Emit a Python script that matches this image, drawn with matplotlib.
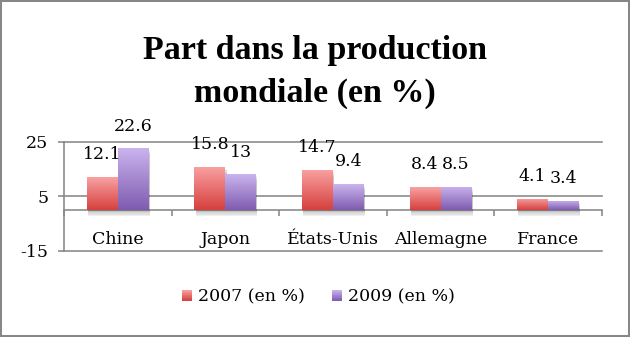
import matplotlib
matplotlib.use("Agg")
import matplotlib.pyplot as plt
import matplotlib.patheffects as pe
import numpy as np
from matplotlib.patches import Rectangle
from matplotlib.colors import LinearSegmentedColormap
from matplotlib.legend_handler import HandlerBase

# Production share per country
categories = ["Chine", "Japon", "États-Unis", "Allemagne", "France"]
part_2007 = [12.1, 15.8, 14.7, 8.4, 4.1]
part_2009 = [22.6, 13, 9.4, 8.5, 3.4]
series_labels = ["2007 (en %)", "2009 (en %)"]
y_ticks = [-15, 5, 25]
title_lines = ["Part dans la production", "mondiale (en %)"]

GRAY = "#878787"
BODY_FONT = "DejaVu Serif"
TITLE_FONT = "Liberation Serif"
FS = 12.5

# bottom -> top gradients
cmap_2007 = LinearSegmentedColormap.from_list("red", ["#d5403e", "#f9a2a2"])
cmap_2009 = LinearSegmentedColormap.from_list("purple", ["#7e5bb0", "#cab4ee"])

W, H = 630, 337
fig = plt.figure(figsize=(W / 100, H / 100), dpi=100)
fig.patch.set_facecolor("white")
ax = fig.add_axes([64 / W, (H - 250.7) / H, 538 / W, 109 / H])

x = np.arange(len(categories))
bw = 0.288

gradient = np.linspace(0, 1, 256).reshape(-1, 1)
shadow = [pe.SimplePatchShadow(offset=(0.8, -1.5 - k), shadow_rgbFace="black", alpha=0.06)
          for k in range(4)]

for values, offset, cmap in ((part_2007, -bw / 2, cmap_2007), (part_2009, bw / 2, cmap_2009)):
    bars = ax.bar(x + offset, values, width=bw, color=cmap(0.5), edgecolor="none", zorder=3)
    for bar, v in zip(bars, values):
        bar.set_path_effects(shadow + [pe.Normal()])
        x0 = bar.get_x()
        img = ax.imshow(gradient, extent=(x0, x0 + bar.get_width(), 0, v), origin="lower",
                        aspect="auto", cmap=cmap, zorder=3.1, interpolation="bilinear")
        img.set_clip_path(bar)
        ax.annotate(f"{v:g}", xy=(bar.get_x() + bar.get_width() / 2, v), xytext=(0, 16),
                    textcoords="offset points", ha="center", va="center",
                    fontsize=FS, family=BODY_FONT, color="black", zorder=4)

ax.set_xlim(-0.5, len(categories) - 0.5)
ax.set_ylim(min(y_ticks), max(y_ticks))

for yv in y_ticks:
    ax.axhline(yv, color=GRAY, lw=1.15, zorder=1, clip_on=False)

for side in ("top", "right"):
    ax.spines[side].set_visible(False)
ax.spines["bottom"].set_position(("data", 0))
ax.spines["bottom"].set_color(GRAY)
ax.spines["bottom"].set_linewidth(1.15)
ax.spines["left"].set_color(GRAY)
ax.spines["left"].set_linewidth(1.15)

ax.set_yticks(y_ticks)
ax.set_yticklabels([str(t) for t in y_ticks], fontsize=FS, family=BODY_FONT)
ax.tick_params(axis="y", direction="out", length=4.3, width=1.15, color=GRAY, pad=7)

ax.set_xticks(x)
ax.set_xticklabels(categories, fontsize=FS, family=BODY_FONT)
ax.tick_params(axis="x", which="major", length=0, pad=15)
ax.set_xticks(np.arange(-0.5, len(categories)), minor=True)
ax.tick_params(axis="x", which="minor", direction="out", length=4.3, width=1.15, color=GRAY)

# Title
fig.text(0.5, 1 - 59 / H, title_lines[0], ha="center", va="baseline",
         family=TITLE_FONT, fontweight="bold", fontsize=24.5)
fig.text(0.5, 1 - 101.7 / H, title_lines[1], ha="center", va="baseline",
         family=TITLE_FONT, fontweight="bold", fontsize=24.5)


class GradientHandler(HandlerBase):
    def __init__(self, cmap):
        super().__init__()
        self.cmap = cmap

    def create_artists(self, legend, orig_handle, xdescent, ydescent, width, height,
                       fontsize, trans):
        n = 14
        out = []
        for k in range(n):
            r = Rectangle((-xdescent, -ydescent + height * k / n), width, height / n * 1.05,
                          facecolor=self.cmap((k + 0.5) / n), edgecolor="none", transform=trans)
            out.append(r)
        return out


h1 = Rectangle((0, 0), 1, 1)
h2 = Rectangle((0, 0), 1, 1)
fig.legend([h1, h2], series_labels, loc="center", bbox_to_anchor=(318.5 / W, 1 - 297 / H),
           ncol=2, frameon=False, prop={"family": BODY_FONT, "size": FS},
           handlelength=0.58, handleheight=0.58, handletextpad=0.35, columnspacing=1.55,
           handler_map={h1: GradientHandler(cmap_2007), h2: GradientHandler(cmap_2009)})

# Outer frame
fig.add_artist(Rectangle((0, 0), 1, 1, transform=fig.transFigure, fill=False,
                         edgecolor=GRAY, lw=2.9, zorder=10))

fig.savefig("out.png", dpi=100, facecolor="white")
